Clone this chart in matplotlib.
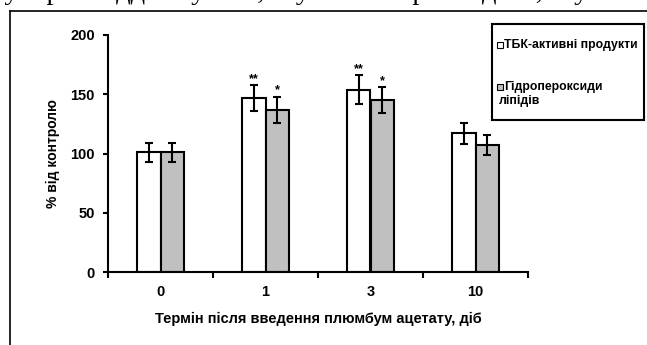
import matplotlib
matplotlib.use("Agg")
import matplotlib.pyplot as plt
from matplotlib.patches import Rectangle
from matplotlib.lines import Line2D
import numpy as np

categories = ["0", "1", "3", "10"]
tbk_values = [101, 147, 154, 117]
tbk_errors = [8, 11, 12, 9]
hp_values = [101, 137, 145, 107]
hp_errors = [8, 11, 11, 8.5]
tbk_marks = ["", "**", "**", ""]
hp_marks = ["", "*", "*", ""]
series_labels = ["ТБК-активні продукти", "Гідропероксиди\nліпідів"]
series_colors = ["white", "#c0c0c0"]
y_label = "% від контролю"
x_label = "Термін після введення плюмбум ацетату, діб"
top_text = "супероксиддисмутази, глутатіонпероксидази, глутаті"

W, H = 647, 345
fig = plt.figure(figsize=(W / 100, H / 100), dpi=100)
fig.patch.set_facecolor("white")


def fx(px):
    return px / W


def fy(py):
    return 1 - py / H


# cut-off document text at the very top
fig.text(fx(-8), fy(-1), top_text, family="Liberation Serif", fontsize=20.5,
         ha="left", va="baseline", color="black")

# frame lines of the scanned figure
fig.add_artist(Line2D([fx(10), 1.0], [fy(11), fy(11)], color="black", lw=1.2))
fig.add_artist(Line2D([fx(10), fx(10)], [0, fy(11)], color="black", lw=1.2))

ax = fig.add_axes([fx(108), fy(272), fx(528 - 108), (272 - 35) / H])
x = np.arange(len(categories))
bw = 0.228
fnt = dict(family="Liberation Sans", weight="bold")

ax.bar(x - bw / 2, tbk_values, bw, color=series_colors[0], edgecolor="black", lw=1.5, zorder=2)
ax.bar(x + bw / 2, hp_values, bw, color=series_colors[1], edgecolor="black", lw=1.5, zorder=2)
ekw = dict(fmt="none", ecolor="black", elinewidth=1.5, capsize=3, capthick=1.5, zorder=3)
ax.errorbar(x - bw / 2, tbk_values, yerr=tbk_errors, **ekw)
ax.errorbar(x + bw / 2, hp_values, yerr=hp_errors, **ekw)

for xi, v, e, m in zip(x - bw / 2, tbk_values, tbk_errors, tbk_marks):
    if m:
        ax.text(xi, v + e, m, ha="center", va="bottom", fontsize=9, **fnt)
for xi, v, e, m in zip(x + bw / 2, hp_values, hp_errors, hp_marks):
    if m:
        ax.text(xi, v + e, m, ha="center", va="bottom", fontsize=9, **fnt)

ax.set_xlim(-0.5, len(categories) - 0.5)
ax.set_ylim(0, 200)
ax.set_yticks([0, 50, 100, 150, 200])
ax.set_xticks(np.arange(-0.5, len(categories)), labels=[""] * (len(categories) + 1))
ax.set_xticks(x, labels=categories, minor=True)
ax.tick_params(axis="x", which="major", direction="out", length=4, width=1.5)
ax.tick_params(axis="x", which="minor", length=0, pad=9)
ax.tick_params(axis="y", direction="out", length=3.5, width=1.5, pad=6)
for lab in ax.get_yticklabels() + ax.get_xticklabels(minor=True):
    lab.set_fontfamily("Liberation Sans")
    lab.set_fontweight("bold")
    lab.set_fontsize(10.5)

for s in ["top", "right"]:
    ax.spines[s].set_visible(False)
for s in ["left", "bottom"]:
    ax.spines[s].set_linewidth(1.5)

ax.set_ylabel(y_label, fontsize=10, labelpad=7, **fnt)
ax.set_xlabel(x_label, fontsize=10.5, labelpad=10, **fnt)

# legend box
fig.add_artist(Rectangle((fx(492), fy(120)), fx(644 - 492), (120 - 24) / H,
                         facecolor="white", edgecolor="black", lw=1.5))
legend_rows = [45, 87]
for lbl, col, yy in zip(series_labels, series_colors, legend_rows):
    fig.add_artist(Rectangle((fx(497), fy(yy + 3)), fx(6), 6 / H,
                             facecolor=col, edgecolor="black", lw=0.8))
    lines = lbl.split("\n")
    fig.text(fx(504), fy(yy), lines[0], ha="left", va="center", fontsize=8.8, **fnt)
    for k, extra in enumerate(lines[1:], start=1):
        fig.text(fx(499), fy(yy + 14 * k), extra, ha="left", va="center", fontsize=8.8, **fnt)

fig.savefig("out.png", dpi=100)
